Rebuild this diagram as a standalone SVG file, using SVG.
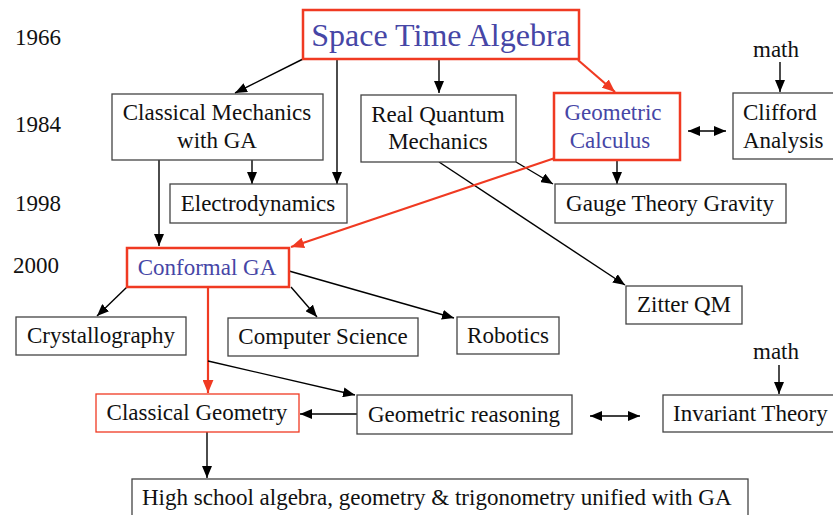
<svg xmlns="http://www.w3.org/2000/svg" width="833" height="515" viewBox="0 0 833 515">
<defs>
<marker id="ab" viewBox="0 0 12 10" refX="12" refY="5" markerWidth="12" markerHeight="10" markerUnits="userSpaceOnUse" orient="auto-start-reverse"><path d="M0,0 L12,5 L0,10 z" fill="#000"/></marker>
<marker id="ar" viewBox="0 0 12 10" refX="12" refY="5" markerWidth="13" markerHeight="11" markerUnits="userSpaceOnUse" orient="auto"><path d="M0,0 L12,5 L0,10 z" fill="#f03a22"/></marker>
</defs>
<style>
text{font-family:"Liberation Serif","Times New Roman",serif;font-size:23px;fill:#111}
.c{text-anchor:middle}
.blue{fill:#4646a6}
.box{fill:#fff;stroke:#444;stroke-width:1.3}
.rbox{fill:#fff;stroke:#f03a22;stroke-width:2.5}
.rthin{fill:#fff;stroke:#f03a22;stroke-width:1.3}
.k{stroke:#000;stroke-width:1.4;fill:none}
.r{stroke:#f03a22;stroke-width:2.2;fill:none}
</style>
<rect width="833" height="515" fill="#fff"/>
<g id="years">
<text x="15" y="45">1966</text>
<text x="15" y="132">1984</text>
<text x="15" y="211">1998</text>
<text x="13" y="273">2000</text>
</g>
<g id="connectors">
<line class="k" x1="303" y1="59" x2="235" y2="93" marker-end="url(#ab)"/>
<line class="k" x1="337" y1="59" x2="337" y2="184" marker-end="url(#ab)"/>
<line class="k" x1="439" y1="59" x2="439" y2="93" marker-end="url(#ab)"/>
<line class="r" x1="578" y1="60" x2="615" y2="92" marker-end="url(#ar)"/>
<line class="k" x1="252" y1="160" x2="252" y2="184" marker-end="url(#ab)"/>
<line class="k" x1="159" y1="160" x2="159" y2="246" marker-end="url(#ab)"/>
<line class="k" x1="516" y1="162" x2="553" y2="184" marker-end="url(#ab)"/>
<line class="k" x1="439" y1="162" x2="625" y2="285" marker-end="url(#ab)"/>
<line class="k" x1="617" y1="160" x2="617" y2="184" marker-end="url(#ab)"/>
<line class="k" x1="688" y1="131" x2="726" y2="131" marker-start="url(#ab)" marker-end="url(#ab)"/>
<line class="k" x1="780" y1="62" x2="780" y2="92" marker-end="url(#ab)"/>
<line class="r" x1="555" y1="158" x2="291" y2="247" marker-end="url(#ar)"/>
<line class="k" x1="127" y1="287" x2="97" y2="316" marker-end="url(#ab)"/>
<line class="k" x1="291" y1="287" x2="317" y2="317" marker-end="url(#ab)"/>
<line class="k" x1="289" y1="271" x2="454" y2="318" marker-end="url(#ab)"/>
<line class="r" x1="208" y1="287" x2="208" y2="393" marker-end="url(#ar)"/>
<line class="k" x1="208" y1="361" x2="355" y2="395" marker-end="url(#ab)"/>
<line class="k" x1="357" y1="414" x2="300" y2="414" marker-end="url(#ab)"/>
<line class="k" x1="207" y1="432" x2="207" y2="478" marker-end="url(#ab)"/>
<line class="k" x1="590" y1="416" x2="640" y2="416" marker-start="url(#ab)" marker-end="url(#ab)"/>
<line class="k" x1="779" y1="365" x2="779" y2="394" marker-end="url(#ab)"/>
</g>
<g id="sta"><rect class="rbox" x="303" y="10" width="276" height="49"/><text class="c blue" x="441" y="46" style="font-size:32px">Space Time Algebra</text></g>
<g id="cm"><rect class="box" x="112" y="94" width="211" height="66"/><text class="c" x="217" y="120">Classical Mechanics</text><text class="c" x="217" y="148">with GA</text></g>
<g id="rqm"><rect class="box" x="361" y="95" width="155" height="67"/><text class="c" x="438" y="122">Real Quantum</text><text class="c" x="438" y="149">Mechanics</text></g>
<g id="gc"><rect class="rbox" x="554" y="93" width="126" height="67"/><text class="c blue" x="613" y="120">Geometric</text><text class="c blue" x="610" y="148">Calculus</text></g>
<g id="math1"><text class="c" x="776" y="57">math</text></g>
<g id="clifford"><rect class="box" x="733" y="93" width="105" height="66"/><text x="743" y="120">Clifford</text><text x="743" y="148">Analysis</text></g>
<g id="electro"><rect class="box" x="170" y="184" width="177" height="39"/><text class="c" x="258" y="211">Electrodynamics</text></g>
<g id="gauge"><rect class="box" x="555" y="184" width="231" height="39"/><text class="c" x="670" y="211">Gauge Theory Gravity</text></g>
<g id="cga"><rect class="rbox" x="127" y="248" width="162" height="39"/><text class="c blue" x="207" y="275">Conformal GA</text></g>
<g id="zitter"><rect class="box" x="626" y="286" width="116" height="38"/><text class="c" x="684" y="312">Zitter QM</text></g>
<g id="crystal"><rect class="box" x="16" y="317" width="170" height="38"/><text class="c" x="101" y="343">Crystallography</text></g>
<g id="cs"><rect class="box" x="228" y="318" width="190" height="38"/><text class="c" x="323" y="344">Computer Science</text></g>
<g id="robotics"><rect class="box" x="457" y="317" width="102" height="37"/><text class="c" x="508" y="343">Robotics</text></g>
<g id="math2"><text class="c" x="776" y="359">math</text></g>
<g id="cg"><rect class="rthin" x="96" y="394" width="203" height="38"/><text class="c" x="197" y="420">Classical Geometry</text></g>
<g id="gr"><rect class="box" x="357" y="395" width="215" height="39"/><text class="c" x="464" y="422">Geometric reasoning</text></g>
<g id="inv"><rect class="box" x="663" y="395" width="175" height="37"/><text x="673" y="421">Invariant Theory</text></g>
<g id="hs"><rect class="box" x="132" y="479" width="616" height="45"/><text x="142" y="505">High school algebra, geometry &amp; trigonometry unified with GA</text></g>
</svg>
